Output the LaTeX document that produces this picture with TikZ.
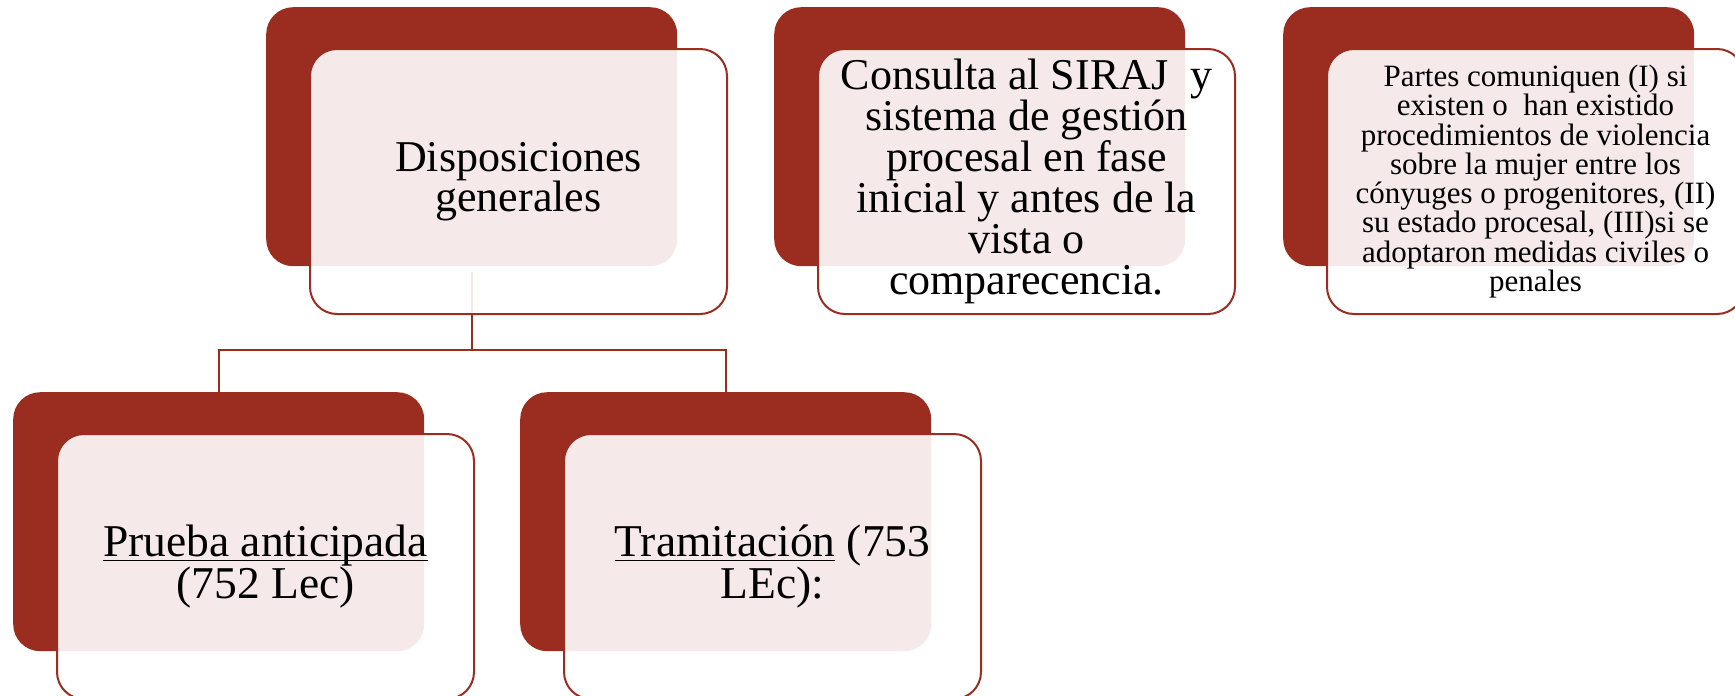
\documentclass[tikz,border=0pt]{standalone}
\usepackage{fontspec}
\setmainfont{Liberation Serif}
\usetikzlibrary{calc}
\definecolor{dred}{RGB}{155,45,32}
\newcommand\myul[1]{\setbox0=\hbox{#1}\rlap{\rule[-0.11em]{\wd0}{0.035em}}\box0\relax}
\begin{document}
\begin{tikzpicture}[x=1pt,y=1pt,
 back/.style={rectangle, rounded corners=27pt, fill=dred, minimum width=411pt, minimum height=259pt, inner sep=0pt, anchor=north west},
 front/.style={rectangle, rounded corners=27pt, fill=white, fill opacity=0.9, text opacity=1, draw=dred, line width=2pt, minimum width=417pt, minimum height=265pt, inner sep=0pt, anchor=north west, align=center, text=black},
 big/.style={font=\fontsize{44}{40}\selectfont},
 bigb/.style={font=\fontsize{44}{41}\selectfont},
 bot/.style={font=\fontsize{45.5}{40}\selectfont},
 small/.style={font=\fontsize{31}{29.3}\selectfont},
 conn/.style={draw=dred, line width=2.2pt}]
\useasboundingbox (0,0) rectangle (1735,-696);
% back boxes
\node[back] (d1) at (266,-7) {};
\node[back] (d2) at (774,-7) {};
\node[back] (d3) at (1283,-7) {};
\node[back] (d4) at (13,-392) {};
\node[back] (d5) at (520,-392) {};
% connectors
\coordinate (bus) at (0,-350);
\draw[conn] ($(d1.south)+(0,-6)$) -- (d1.south |- bus);
\draw[conn] (d4.north) -- (d4.north |- bus) -- (d5.north |- bus) -- (d5.north);
% front boxes
\node[front, big] (f1) at ($(d1.north west)+(43,-41)$) {Disposiciones\\generales};
\node[front, bigb] (f2) at ($(d2.north west)+(43,-41)$) {Consulta al SIRAJ~ y\\sistema de gestión\\procesal en fase\\inicial y antes de la\\vista o\\comparecencia.};
\node[front, small] (f3) at ($(d3.north west)+(43,-41)$) {Partes comuniquen (I) si\\existen o~ han existido\\procedimientos de violencia\\sobre la mujer entre los\\cónyuges o progenitores, (II)\\su estado procesal, (III)si se\\adoptaron medidas civiles o\\penales};
\node[front, bot] (f4) at ($(d4.north west)+(43,-41)$) {\myul{Prueba anticipada}\\(752 Lec)};
\node[front, bot] (f5) at ($(d5.north west)+(43,-41)$) {\myul{Tramitación} (753\\LEc):};
\end{tikzpicture}
\end{document}
